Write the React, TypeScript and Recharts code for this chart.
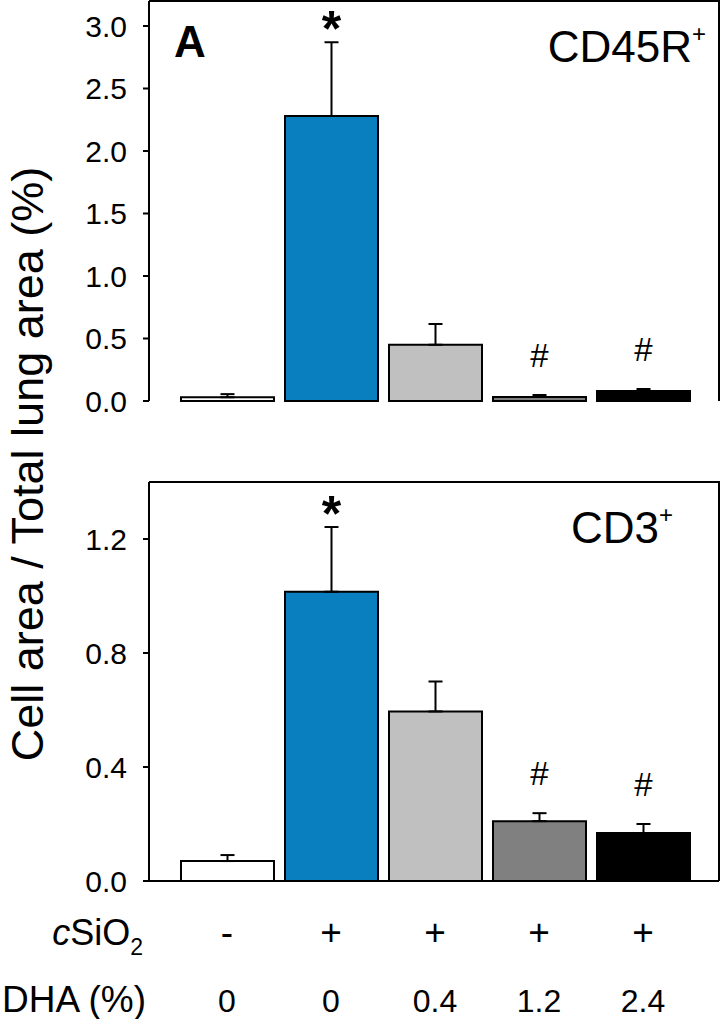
import { Bar, BarChart, Cell, ErrorBar, LabelList, XAxis, YAxis } from "recharts";

const groups = ["Control", "cSiO2", "cSiO2 + DHA 0.4", "cSiO2 + DHA 1.2", "cSiO2 + DHA 2.4"];
const silicaSigns = ["-", "+", "+", "+", "+"];
const dhaDoses = ["0", "0", "0.4", "1.2", "2.4"];
const barColors = ["#ffffff", "#0a7fc0", "#c0c0c0", "#808080", "#000000"];

const cd45rMean = [0.03, 2.28, 0.45, 0.032, 0.08];
const cd45rSem = [0.025, 0.59, 0.166, 0.016, 0.016];
const cd45rMarks = ["", "*", "", "#", "#"];
const cd45rTicks = [0, 0.5, 1, 1.5, 2, 2.5, 3];

const cd3Mean = [0.07, 1.015, 0.595, 0.21, 0.168];
const cd3Sem = [0.021, 0.227, 0.105, 0.028, 0.032];
const cd3Marks = ["", "*", "", "#", "#"];
const cd3Ticks = [0, 0.4, 0.8, 1.2];

const font = "'Liberation Sans', Arial, Helvetica, sans-serif";
const axisStroke = { stroke: "#000", strokeWidth: 2 };

function toRows(mean: number[], sem: number[]) {
  return groups.map((group, i) => ({ group, mean: mean[i], sem: [0, sem[i]] }));
}

// draws * / # above the error bar of the bar it belongs to
function markContent(sem: number[], marks: string[]) {
  return (props: any) => {
    const vb = props.viewBox ?? {};
    const x = props.x ?? vb.x;
    const y = props.y ?? vb.y;
    const width = props.width ?? vb.width;
    const height = props.height ?? vb.height;
    const { value, index } = props;
    const mark = marks[index];
    if (!mark || !value) return null;
    const errTop = y - (sem[index] * height) / value;
    const cx = x + width / 2;
    if (mark === "*") {
      return (
        <text x={cx} y={errTop + 4} textAnchor="middle" fontSize={50} fontWeight="bold" fill="#000">
          *
        </text>
      );
    }
    return (
      <text x={cx} y={errTop - 28} textAnchor="middle" fontSize={33} fill="#000">
        #
      </text>
    );
  };
}

function TreatmentTick(props: any) {
  const { x, y, index } = props;
  return (
    <g>
      <text x={x} y={y + 64} textAnchor="middle" fontSize={37} fill="#000">
        {silicaSigns[index]}
      </text>
      <text x={x} y={y + 131} textAnchor="middle" fontSize={32} fill="#000">
        {dhaDoses[index]}
      </text>
    </g>
  );
}

function Panel({
  mean,
  sem,
  marks,
  ticks,
  yMax,
  top,
  height,
  xAxisHeight,
  margin,
}: {
  mean: number[];
  sem: number[];
  marks: string[];
  ticks: number[];
  yMax: number;
  top: number;
  height: number;
  xAxisHeight: number;
  margin: { top: number; right: number; left: number; bottom: number };
}) {
  const rows = toRows(mean, sem);
  const showTreatments = xAxisHeight > 0;
  return (
    <div style={{ position: "absolute", left: 0, top }}>
      <BarChart width={722} height={height} data={rows} margin={margin}>
        <XAxis
          dataKey="group"
          height={xAxisHeight}
          padding={{ left: 26, right: 24 }}
          axisLine={axisStroke}
          tickLine={false}
          tickSize={0}
          tickMargin={0}
          interval={0}
          tick={showTreatments ? <TreatmentTick /> : false}
        />
        <YAxis
          width={149}
          domain={[0, yMax]}
          ticks={ticks}
          interval={0}
          tickFormatter={(v: number) => v.toFixed(1)}
          tickSize={6}
          tickMargin={16}
          axisLine={axisStroke}
          tickLine={axisStroke}
          tick={{ fill: "#000", fontSize: 30 }}
        />
        <Bar dataKey="mean" barSize={93} stroke="#000" strokeWidth={2} isAnimationActive={false}>
          {rows.map((r, i) => (
            <Cell key={r.group} fill={barColors[i]} />
          ))}
          <ErrorBar dataKey="sem" width={7} stroke="#000" strokeWidth={2} direction="y" isAnimationActive={false} />
          <LabelList dataKey="mean" content={markContent(sem, marks)} />
        </Bar>
      </BarChart>
    </div>
  );
}

export default function App() {
  return (
    <div style={{ position: "relative", width: 722, height: 1019, fontFamily: font, background: "#fff" }}>
      <style>{"body{margin:0}"}</style>
      <Panel
        mean={cd45rMean}
        sem={cd45rSem}
        marks={cd45rMarks}
        ticks={cd45rTicks}
        yMax={3.2}
        top={0}
        height={430}
        xAxisHeight={0}
        margin={{ top: 1, right: 3, left: 0, bottom: 29 }}
      />
      <Panel
        mean={cd3Mean}
        sem={cd3Sem}
        marks={cd3Marks}
        ticks={cd3Ticks}
        yMax={1.4}
        top={470}
        height={549}
        xAxisHeight={138}
        margin={{ top: 12, right: 3, left: 0, bottom: 0 }}
      />
      <svg
        width={722}
        height={1019}
        style={{ position: "absolute", left: 0, top: 0, pointerEvents: "none", fontFamily: font }}
      >
        {/* panel frames: top and right edges of each plot box */}
        <polyline points="149,1 719,1 719,401" fill="none" stroke="#000" strokeWidth={2} />
        <polyline points="149,482 719,482 719,881" fill="none" stroke="#000" strokeWidth={2} />
        <text x={43} y={464} transform="rotate(-90 43 464)" textAnchor="middle" fontSize={45} fill="#000">
          Cell area / Total lung area (%)
        </text>
        <text x={174} y={57} fontSize={44} fontWeight="bold" fill="#000">
          A
        </text>
        <text x={706} y={62} textAnchor="end" fontSize={44} fill="#000">
          CD45R
          <tspan fontSize={24} dy={-20}>
            +
          </tspan>
        </text>
        <text x={673} y={543} textAnchor="end" fontSize={44} fill="#000">
          CD3
          <tspan fontSize={24} dy={-20}>
            +
          </tspan>
        </text>
        <text x={143} y={945} textAnchor="end" fontSize={36} fill="#000">
          <tspan fontStyle="italic">c</tspan>SiO
          <tspan fontSize={23} dy={10}>
            2
          </tspan>
        </text>
        <text x={146} y={1012} textAnchor="end" fontSize={37} fill="#000">
          DHA (%)
        </text>
      </svg>
    </div>
  );
}
